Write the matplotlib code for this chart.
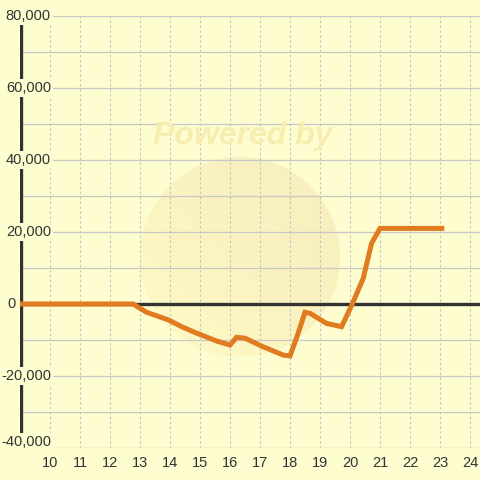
import matplotlib
matplotlib.use("Agg")
import matplotlib.pyplot as plt
from matplotlib.patches import Circle
import matplotlib.transforms as mtransforms
import numpy as np

# data
x_vals = [9.0, 12.77, 13.22, 13.94, 14.39, 14.83, 15.56, 16.0, 16.22, 16.5, 17.11,
          17.78, 18.0, 18.22, 18.5, 18.67, 19.22, 19.72, 20.06, 20.44, 20.72, 21.0, 23.06]
y_vals = [0, 0, -2300, -4400, -6300, -7900, -10300, -11400, -9250, -9500, -11900,
          -14200, -14400, -9400, -2300, -2600, -5400, -6300, -300, 7100, 16900, 21000, 21000]
x_ticks = list(range(10, 25))
y_ticks = [80000, 60000, 40000, 20000, -20000, -40000]
y_tick_labels = ["80,000", "60,000", "40,000", "20,000", "-20,000", "-40,000"]

BG = "#FDFDD0"
plt.rcParams['font.family'] = ['Liberation Sans', 'DejaVu Sans']

fig = plt.figure(figsize=(4.8, 4.8), dpi=100, facecolor=BG)
ax = fig.add_axes([20/480, 32/480, 460/480, 432/480])
ax.set_xlim(9, 24 + 10/30)
ax.set_ylim(-40000, 80000)
for s in ax.spines.values():
    s.set_visible(False)

# grid
for yv in range(-40000, 80001, 10000):
    ax.axhline(yv, color="#c8c8c8", lw=0.9, zorder=1)
for xv in x_ticks:
    ax.axvline(xv, color="#c4c4c4", lw=0.8, ls=(0, (2.2, 2.2)), zorder=1)

# watermark: gradient circle in figure pixel coords
wax = fig.add_axes([0, 0, 1, 1], zorder=-1)
wax.set_xlim(0, 480); wax.set_ylim(480, 0); wax.axis("off")
wax.patch.set_alpha(0)
yy, xx = np.mgrid[0:1:200j, 0:1:200j]
g = (xx + (1 - yy)) / 2.0  # lower-left light, upper-right darker
c0 = np.array([0xFE, 0xF9, 0xC4]) / 255
c1 = np.array([0xF6, 0xEE, 0xBE]) / 255
img = c0[None, None, :] * (1 - g[..., None]) + c1[None, None, :] * g[..., None]
im = wax.imshow(img, extent=(140, 340, 357, 157), zorder=0)
circ = Circle((240, 257), 100, transform=wax.transData, facecolor="none", edgecolor="none")
wax.add_patch(circ)
im.set_clip_path(circ)
ax.patch.set_alpha(0)

ax.text(243, 136, "Powered by", transform=wax.transData, ha="center", va="center",
        fontsize=23, fontweight="bold", fontstyle="italic", color="#F6EDAE", zorder=1.6)

# axes lines
ax.axhline(0, color="#333333", lw=2.4, zorder=2)
ax.axvline(9 + 0.5/30, color="#333333", lw=2.4, zorder=2)

# data line
ax.plot(x_vals, y_vals, color="#E07B20", lw=3.6, zorder=3, solid_joinstyle="miter")

# x ticks
ax.set_xticks(x_ticks)
ax.set_xticklabels([str(v) for v in x_ticks])
ax.tick_params(axis="x", length=0, pad=5.5, labelsize=10.5, labelcolor="#333333")
ax.set_yticks([])

# y tick labels with background boxes
trans = mtransforms.blended_transform_factory(ax.transAxes, ax.transData)
offs = {-40000: 1600}
for yv, lab in zip(y_ticks, y_tick_labels):
    ax.text((51-20)/460, yv + offs.get(yv, 0), lab, transform=trans, ha="right", va="center",
            fontsize=10.5, color="#333333", zorder=4, clip_on=False,
            bbox=dict(facecolor=BG, edgecolor="none", pad=1.5))
ax.text((16-20)/460, 0, "0", transform=trans, ha="right", va="center",
        fontsize=10.5, color="#333333", zorder=4, clip_on=False)

fig.savefig("out.png", dpi=100, facecolor=BG)
